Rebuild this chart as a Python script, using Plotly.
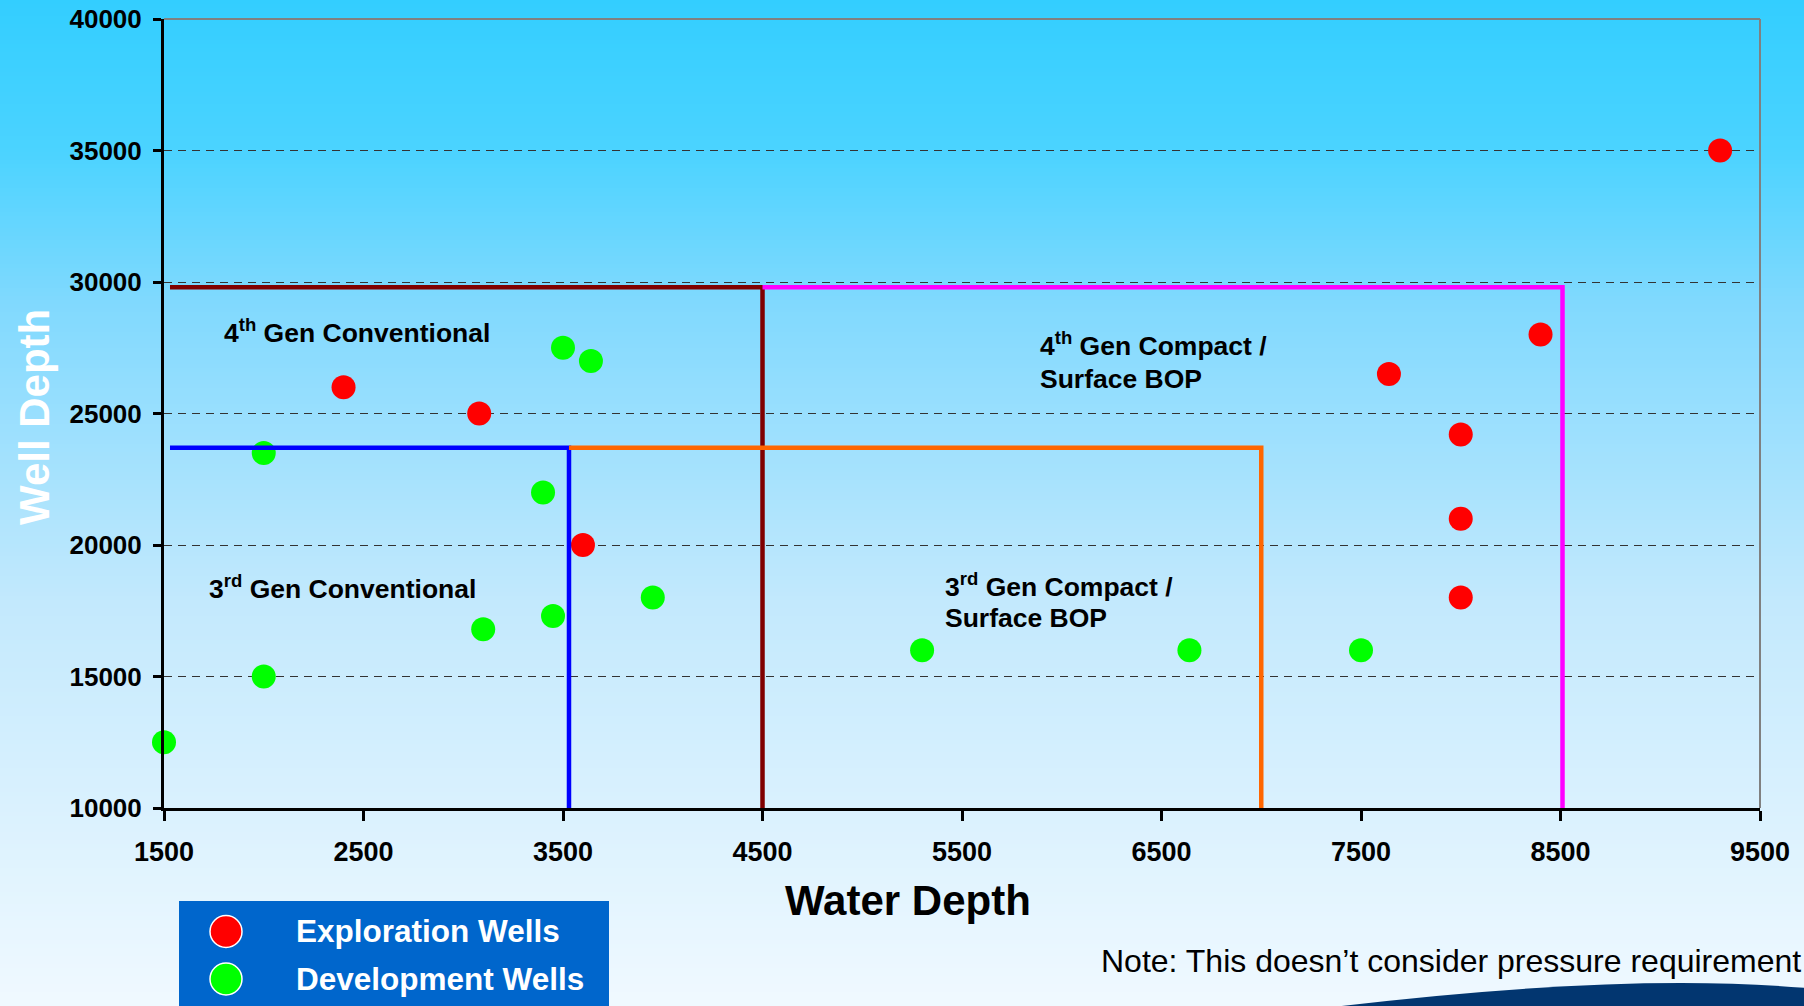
import plotly.graph_objects as go

# ---------------- data ----------------
expl_x = [9300, 8400, 7640, 8000, 8000, 8000, 2400, 3080, 3600]
expl_y = [35000, 28000, 26500, 24200, 21000, 18000, 26000, 25000, 20000]

dev_x = [1500, 2000, 2000, 3100, 3450, 3400, 3500, 3640, 3950, 5300, 6640, 7500]
dev_y = [12500, 15000, 23500, 16800, 17300, 22000, 27500, 27000, 18000, 16000, 16000, 16000]

gen4_conv_x = [1530, 4500, 4500]
gen4_conv_y = [29800, 29800, 10000]
gen4_comp_x = [4500, 8510, 8510]
gen4_comp_y = [29800, 29800, 10000]
gen3_conv_x = [1530, 3530, 3530]
gen3_conv_y = [23700, 23700, 10000]
gen3_comp_x = [3530, 7000, 7000]
gen3_comp_y = [23700, 23700, 10000]

x_ticks = [1500, 2500, 3500, 4500, 5500, 6500, 7500, 8500, 9500]
y_ticks = [10000, 15000, 20000, 25000, 30000, 35000, 40000]

series_names = ["Exploration Wells", "Development Wells"]
series_colors = ["#FF0000", "#00FF00"]

# ---------------- geometry helpers ----------------
W, H = 1804, 1006
L, R, T, B = 164, 44, 19, 198
PW, PH = W - L - R, H - T - B


def px2x(px):
    return (px - L) / PW


def py2y(py):
    return (H - B - py) / PH


FONT = "Liberation Sans, Arial, sans-serif"

fig = go.Figure()

fig.add_trace(go.Scatter(
    x=expl_x, y=expl_y, mode="markers", name=series_names[0],
    marker=dict(color=series_colors[0], size=24, line=dict(width=0)),
    cliponaxis=False, showlegend=False,
))
fig.add_trace(go.Scatter(
    x=dev_x, y=dev_y, mode="markers", name=series_names[1],
    marker=dict(color=series_colors[1], size=24, line=dict(width=0)),
    cliponaxis=False, showlegend=False,
))

for xs, ys, col in [
    (gen4_conv_x, gen4_conv_y, "#800000"),
    (gen4_comp_x, gen4_comp_y, "#FF00FF"),
    (gen3_conv_x, gen3_conv_y, "#0000FF"),
    (gen3_comp_x, gen3_comp_y, "#FF6600"),
]:
    fig.add_trace(go.Scatter(
        x=xs, y=ys, mode="lines", line=dict(color=col, width=4.5),
        showlegend=False, hoverinfo="skip", cliponaxis=False,
    ))

# ---------------- background gradient ----------------
stops = [
    (0.0, (51, 206, 255)),
    (0.15, (75, 211, 255)),
    (0.30, (128, 217, 254)),
    (0.60, (195, 233, 253)),
    (1.0, (240, 249, 255)),
]


def grad(t):
    for (t0, c0), (t1, c1) in zip(stops[:-1], stops[1:]):
        if t <= t1:
            f = (t - t0) / (t1 - t0)
            return "rgb(%d,%d,%d)" % tuple(round(a + (b - a) * f) for a, b in zip(c0, c1))
    return "rgb(%d,%d,%d)" % stops[-1][1]


shapes = []
step = 4
for py in range(0, H, step):
    shapes.append(dict(
        type="rect", xref="paper", yref="paper", layer="below",
        x0=px2x(-2), x1=px2x(W + 2), y0=py2y(py + step + 0.5), y1=py2y(py - (2 if py == 0 else 0)),
        fillcolor=grad((py + step / 2) / H), line=dict(width=0),
    ))

# plot frame (top / right)
shapes.append(dict(type="line", xref="paper", yref="paper", x0=0, x1=1, y0=1, y1=1,
                   line=dict(color="#808080", width=2)))
shapes.append(dict(type="line", xref="paper", yref="paper", x0=1, x1=1, y0=0, y1=1,
                   line=dict(color="#808080", width=2)))

# legend box
shapes.append(dict(type="rect", xref="paper", yref="paper",
                   x0=px2x(179), x1=px2x(609), y0=py2y(H + 2), y1=py2y(901),
                   fillcolor="#0066CC", line=dict(width=0)))

# legend markers
legend_rows_py = [931.5, 979]
for name, col, ry in zip(series_names, series_colors, legend_rows_py):
    shapes.append(dict(type="circle", xref="paper", yref="paper",
                       x0=px2x(226 - 16), x1=px2x(226 + 16),
                       y0=py2y(ry + 16), y1=py2y(ry - 16),
                       fillcolor=col, line=dict(color="white", width=1.5)))

# bottom-right wave
x_a, y_a = px2x(1325), py2y(1008)
x_c, y_c = px2x(1620), py2y(972)
x_e, y_e = px2x(1806), py2y(988)
x_f, y_f = px2x(1806), py2y(1008)
shapes.append(dict(
    type="path", xref="paper", yref="paper",
    path=f"M {x_a} {y_a} Q {x_c} {y_c} {x_e} {y_e} L {x_f} {y_f} Z",
    fillcolor="#023670", line=dict(width=0),
))

# ---------------- annotations ----------------
ann_font = dict(family=FONT, size=26.5, color="black")


def region_label(x, y, text):
    return dict(x=x, y=y, xref="x", yref="y", xanchor="left", yanchor="middle",
                text=f"<b>{text}</b>", showarrow=False, font=ann_font)


annotations = [
    region_label(1791, 28150, "4<sup>th</sup> Gen Conventional"),
    region_label(1715, 18420, "3<sup>rd</sup> Gen Conventional"),
    region_label(5881, 27640, "4<sup>th</sup> Gen Compact /"),
    region_label(5881, 26330, "Surface BOP"),
    region_label(5405, 18480, "3<sup>rd</sup> Gen Compact /"),
    region_label(5405, 17230, "Surface BOP"),
    dict(x=px2x(908), y=py2y(900), xref="paper", yref="paper", xanchor="center", yanchor="middle",
         text="<b>Water Depth</b>", showarrow=False,
         font=dict(family=FONT, size=42, color="black")),
    dict(x=px2x(35), y=py2y(417), xref="paper", yref="paper", xanchor="center", yanchor="middle",
         text="<b>Well Depth</b>", showarrow=False, textangle=-90,
         font=dict(family=FONT, size=42, color="white")),
    dict(x=px2x(1803), y=py2y(961), xref="paper", yref="paper", xanchor="right", yanchor="middle",
         text="Note: This doesn\u2019t consider pressure requirement", showarrow=False,
         font=dict(family=FONT, size=32, color="black")),
]
for name, ry in zip(series_names, legend_rows_py):
    annotations.append(dict(
        x=px2x(294), y=py2y(ry), xref="paper", yref="paper", xanchor="left", yanchor="middle",
        text=f"<b>{name}</b>", showarrow=False,
        font=dict(family=FONT, size=31.5, color="white"),
    ))

fig.update_layout(
    width=W, height=H,
    margin=dict(l=L, r=R, t=T, b=B, pad=0, autoexpand=False),
    paper_bgcolor="rgba(0,0,0,0)",
    plot_bgcolor="rgba(0,0,0,0)",
    font=dict(family=FONT),
    shapes=shapes,
    annotations=annotations,
    showlegend=False,
    xaxis=dict(
        range=[1500, 9500], tickmode="array", tickvals=x_ticks,
        ticktext=[str(v) for v in x_ticks],
        showgrid=False, zeroline=False,
        showline=True, linecolor="black", linewidth=3,
        ticks="outside", ticklen=10, tickwidth=3, tickcolor="black",
        ticklabelstandoff=8,
        tickfont=dict(family=FONT, size=27, color="black", weight="bold"),
    ),
    yaxis=dict(
        range=[10000, 40000], tickmode="array", tickvals=y_ticks,
        ticktext=[str(v) for v in y_ticks],
        showgrid=True, gridcolor="#333333", gridwidth=1.3, griddash="8px,6px",
        zeroline=False,
        showline=True, linecolor="black", linewidth=3,
        ticks="outside", ticklen=8, tickwidth=3, tickcolor="black",
        ticklabelstandoff=6,
        tickfont=dict(family=FONT, size=26, color="black", weight="bold"),
    ),
)

fig.write_html("out.html")
